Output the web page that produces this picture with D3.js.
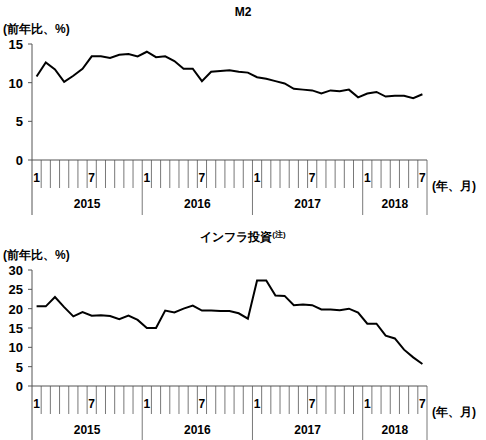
<!DOCTYPE html><html><head><meta charset="utf-8"><script src="https://cdn.jsdelivr.net/npm/d3@7"></script>
<style>body{margin:0;background:#fff}text{font-family:"Liberation Sans",Arial,sans-serif}</style></head><body>
<svg id="c" width="486" height="440"></svg>
<script>
const years=["2015","2016","2017","2018"];
const monthsPerYear=[12,12,12,7];
const m2=[10.8,12.6,11.7,10.1,10.9,11.8,13.4,13.4,13.2,13.6,13.7,13.4,
14.0,13.3,13.4,12.8,11.8,11.8,10.2,11.4,11.5,11.6,11.4,11.3,
10.7,10.5,10.2,9.9,9.2,9.1,9.0,8.6,9.0,8.9,9.1,8.1,
8.6,8.8,8.2,8.3,8.3,8.0,8.5];
const infra=[20.6,20.6,23.0,20.4,18.0,19.1,18.2,18.3,18.1,17.3,18.2,17.1,
15.0,15.0,19.5,19.0,20.0,20.8,19.5,19.5,19.4,19.4,18.8,17.4,
27.3,27.3,23.4,23.3,20.9,21.1,20.9,19.8,19.8,19.6,20.0,19.0,
16.1,16.1,13.0,12.3,9.4,7.4,5.7];
const m2Ticks=[0,5,10,15], infraTicks=[0,5,10,15,20,25,30];
const svg=d3.select("#c");
const N=m2.length, x0=32, x1=427;
const x=d3.scaleLinear().domain([0,N]).range([x0,x1]);
const months=[];years.forEach((y,i)=>{for(let m=1;m<=monthsPerYear[i];m++)months.push({y,m});});
function panel(data,ticks,max,top,bottom,title,titleY,note){
  const y=d3.scaleLinear().domain([0,max]).range([bottom,top]);
  const g=svg.append("g");
  const t=g.append("text").attr("x",243).attr("y",titleY).attr("text-anchor","middle").attr("font-size",12).attr("font-weight","bold").text(title);
  if(note)t.append("tspan").attr("font-size",8).attr("dy",-4).text(note);
  g.append("text").attr("x",3).attr("y",top-11).attr("font-size",12).attr("font-weight","bold").attr("font-family","Noto Sans CJK JP").text("(前年比、%)");
  g.append("line").attr("x1",x0).attr("x2",x0).attr("y1",top).attr("y2",bottom+55).attr("stroke","#555");
  g.append("line").attr("x1",x0).attr("x2",x1).attr("y1",bottom).attr("y2",bottom).attr("stroke","#555");
  ticks.forEach(v=>{
    g.append("line").attr("x1",x0-4).attr("x2",x0).attr("y1",y(v)).attr("y2",y(v)).attr("stroke","#555");
    g.append("text").attr("x",x0-9).attr("y",y(v)+5).attr("text-anchor","end").attr("font-size",13).attr("font-weight","bold").text(v);
  });
  let cum=0;
  months.forEach((d,i)=>{
    const isYear=d.m===1&&i>0;
    if(i>0)g.append("line").attr("x1",x(i)).attr("x2",x(i)).attr("y1",bottom).attr("y2",isYear?bottom+55:bottom+28).attr("stroke","#555").attr("stroke-width",0.8);
    if(d.m===1||d.m===7)g.append("text").attr("x",x(i+0.5)).attr("y",bottom+22).attr("text-anchor","middle").attr("font-size",12).attr("font-weight","bold").text(d.m);
  });
  g.append("line").attr("x1",x(N)).attr("x2",x(N)).attr("y1",bottom).attr("y2",bottom+55).attr("stroke","#555").attr("stroke-width",0.8);
  years.forEach((yr,i)=>{
    const c=cum+monthsPerYear[i]/2;cum+=monthsPerYear[i];
    g.append("text").attr("x",x(c)).attr("y",bottom+48).attr("text-anchor","middle").attr("font-size",12).attr("font-weight","bold").text(yr);
  });
  g.append("text").attr("x",432).attr("y",bottom+30).attr("font-size",12).attr("font-weight","bold").attr("font-family","Noto Sans CJK JP").text("(年、月)");
  g.append("path").datum(data).attr("fill","none").attr("stroke","#000").attr("stroke-width",2)
   .attr("d",d3.line().x((d,i)=>x(i+0.5)).y(d=>y(d)));
}
panel(m2,m2Ticks,15,44,160,"M2",16,null);
panel(infra,infraTicks,30,270,386,"インフラ投資",241,"(注)");
</script></body></html>
